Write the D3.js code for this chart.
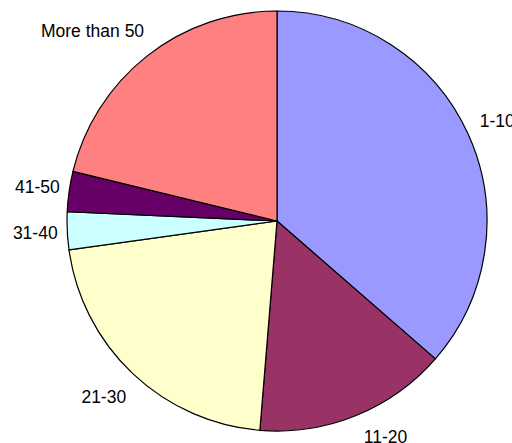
<!DOCTYPE html>
<html>
<head>
<meta charset="utf-8">
<script src="https://cdn.jsdelivr.net/npm/d3@7"></script>
<style>
  html, body { margin: 0; padding: 0; background: #fff; }
  svg { display: block; }
  text { font-family: Arial, "Liberation Sans", sans-serif; font-size: 17.5px; fill: #000; }
</style>
</head>
<body>
<svg id="chart" width="512" height="443"></svg>
<script>
// Share of items by size band
const categories = ["1-10", "11-20", "21-30", "31-40", "41-50", "More than 50"];
const values = [36.4, 14.9, 21.5, 2.9, 3.1, 21.2];
const colors = ["#9999FF", "#993366", "#FFFFCC", "#CCFFFF", "#660066", "#FF8080"];

const W = 512, H = 443;
const cx = 277, cy = 221, R = 210;
const labelDist = 242, clearR = 227, capH = 12.5;

const svg = d3.select("#chart");
const g = svg.append("g").attr("transform", `translate(${cx},${cy})`);

const data = categories.map((c, i) => ({ name: c, value: values[i], color: colors[i] }));

const pie = d3.pie().sort(null).value(d => d.value);
const arc = d3.arc().innerRadius(0).outerRadius(R);
const arcs = pie(data);

g.selectAll("path.slice")
  .data(arcs)
  .join("path")
  .attr("class", "slice")
  .attr("d", arc)
  .attr("fill", d => d.data.color)
  .attr("stroke", "#000")
  .attr("stroke-width", 1.2)
  .attr("stroke-linejoin", "round");

// Labels sit outside the pie along each slice's mid-angle. They are kept
// inside the drawing area, and those near the top or bottom slide sideways
// so they clear the pie's rim.
const labels = g.selectAll("text.lbl")
  .data(arcs)
  .join("text")
  .attr("class", "lbl")
  .attr("text-anchor", "middle")
  .attr("dy", "0.35em")
  .text(d => d.data.name);

labels.each(function(d) {
  const w = this.getComputedTextLength();
  const mid = (d.startAngle + d.endAngle) / 2;
  let x = Math.sin(mid) * labelDist;
  let y = -Math.cos(mid) * labelDist;
  const maxY = (H - 6) - cy;
  if (y > maxY) y = maxY;
  if (Math.abs(Math.cos(mid)) > 0.6) {
    const cyr = Math.abs(y) - capH / 2;
    const cxr = Math.abs(x) - w / 2;
    if (cyr < clearR && Math.hypot(Math.max(cxr, 0), cyr) < clearR) {
      const half = Math.sqrt(clearR * clearR - cyr * cyr);
      x = Math.sign(x || 1) * (half + w / 2);
    }
  }
  d3.select(this).attr("x", x).attr("y", y);
});
</script>
</body>
</html>
